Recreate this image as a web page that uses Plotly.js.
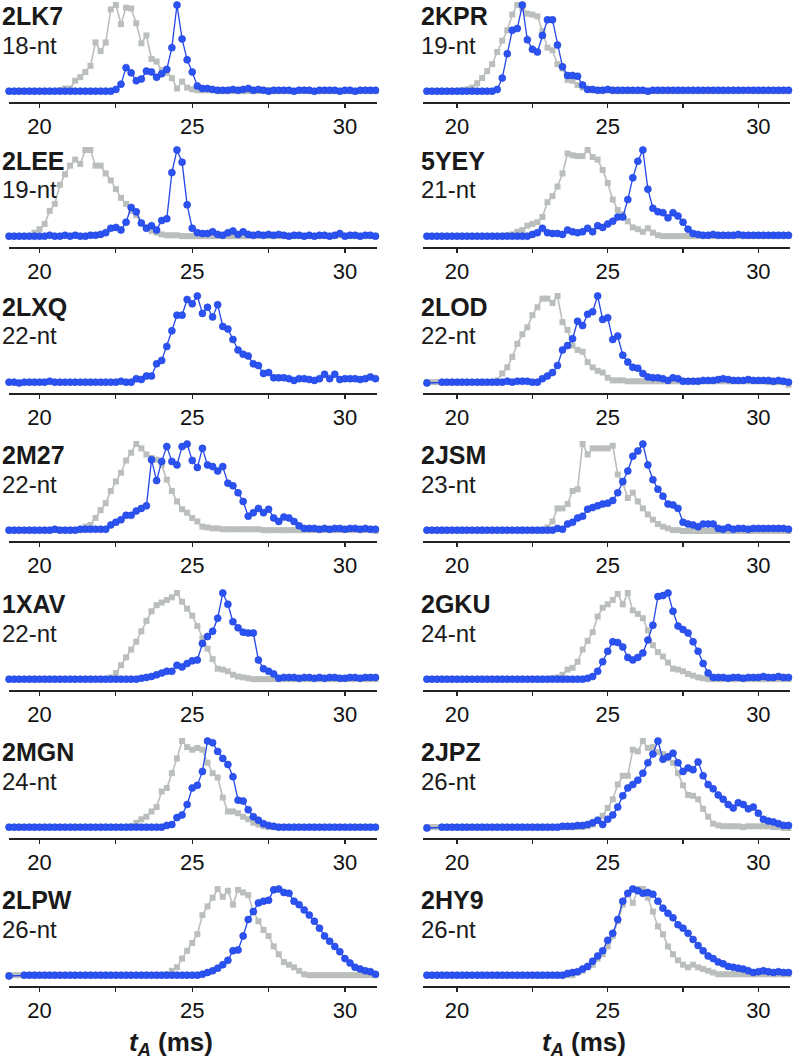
<!DOCTYPE html>
<html>
<head>
<meta charset="utf-8">
<script src="https://cdn.plot.ly/plotly-3.0.1.min.js"></script>
<style>html,body{margin:0;padding:0;background:#fff;}#chart{width:796px;height:1062px;}</style>
</head>
<body>
<div id="chart"></div>
<script>
// time axis t_A (ms)
const tA = [19.000,19.167,19.333,19.500,19.667,19.833,
20.000,20.167,20.333,20.500,20.667,20.833,
21.000,21.167,21.333,21.500,21.667,21.833,
22.000,22.167,22.333,22.500,22.667,22.833,
23.000,23.167,23.333,23.500,23.667,23.833,
24.000,24.167,24.333,24.500,24.667,24.833,
25.000,25.167,25.333,25.500,25.667,25.833,
26.000,26.167,26.333,26.500,26.667,26.833,
27.000,27.167,27.333,27.500,27.667,27.833,
28.000,28.167,28.333,28.500,28.667,28.833,
29.000,29.167,29.333,29.500,29.667,29.833,
30.000,30.167,30.333,30.500,30.667,30.833,
31.000];

const names = ["2LK7","2KPR","2LEE","5YEY","2LXQ","2LOD","2M27","2JSM","1XAV","2GKU","2MGN","2JPZ","2LPW","2HY9"];
const lengths = ["18-nt","19-nt","19-nt","21-nt","22-nt","22-nt","22-nt","23-nt","22-nt","24-nt","24-nt","26-nt","26-nt","26-nt"];
const xTickVals = [20,25,30];
const xTickText = ["20","25","30"];
const xMinorTicks = [22.5,27.5];

// ---- 2LK7 ----
const blue_2LK7 = [0.01,0.01,0.01,0.01,0.01,0.01, 0.01,0.01,0.01,0.01,0.01,0.01, 0.01,0.01,0.01,0.01,0.01,0.01,
0.01,0.01,0.01,0.03,0.09,0.28, 0.22,0.13,0.15,0.24,0.23,0.17, 0.21,0.26,0.51,1.0,0.61,0.37,
0.23,0.07,0.04,0.04,0.03,0.02, 0.02,0.02,0.03,0.02,0.03,0.04, 0.02,0.03,0.02,0.01,0.02,0.02,
0.02,0.02,0.01,0.02,0.02,0.02, 0.01,0.02,0.02,0.02,0.02,0.01, 0.02,0.02,0.01,0.02,0.02,0.02, 0.02];
const gray_2LK7 = [0.01,0.01,0.01,0.01,0.01,0.01, 0.01,0.01,0.01,0.01,0.02,0.04, 0.04,0.13,0.17,0.23,0.30,0.57,
0.47,0.57,0.95,1.0,0.78,0.97, 0.96,0.79,0.56,0.65,0.38,0.35, 0.25,0.22,0.16,0.04,0.12,0.05,
0.03,0.02,0.02,0.02,0.02,0.01, 0.01,0.01,0.01,0.01,0.01,0.01, 0.01,0.01,0.02,0.02,0.01,0.01,
0.01,0.01,0.01,0.02,0.02,0.01, 0.01,0.01,0.01,0.01,0.01,0.01, 0.01,0.01,0.01,0.01,0.01,0.01, 0.01];
// ---- 2KPR ----
const blue_2KPR = [0.01,0.01,0.01,0.01,0.01,0.01, 0.01,0.01,0.01,0.01,0.01,0.01, 0.01,0.01,0.03,0.16,0.44,0.71,
0.73,1.0,0.60,0.49,0.46,0.65, 0.83,0.83,0.54,0.29,0.19,0.19, 0.18,0.08,0.03,0.03,0.02,0.02,
0.03,0.02,0.02,0.02,0.02,0.02, 0.02,0.02,0.01,0.02,0.02,0.02, 0.02,0.02,0.02,0.02,0.02,0.02,
0.02,0.02,0.02,0.02,0.02,0.02, 0.02,0.02,0.02,0.02,0.02,0.02, 0.02,0.02,0.02,0.02,0.02,0.02, 0.02];
const gray_2KPR = [0.01,0.01,0.01,0.01,0.01,0.01, 0.01,0.02,0.03,0.05,0.10,0.16, 0.24,0.32,0.46,0.59,0.71,0.89,
1.0,0.96,0.90,0.89,0.87,0.70, 0.51,0.48,0.32,0.27,0.14,0.13, 0.08,0.05,0.03,0.02,0.02,0.02,
0.02,0.01,0.01,0.01,0.01,0.01, 0.01,0.01,0.01,0.01,0.01,0.01, 0.01,0.01,0.01,0.01,0.01,0.01,
0.01,0.01,0.01,0.01,0.01,0.01, 0.01,0.01,0.01,0.02,0.02,0.01, 0.01,0.01,0.01,0.01,0.01,0.01, 0.01];
// ---- 2LEE ----
const blue_2LEE = [0.01,0.01,0.01,0.01,0.01,0.01, 0.01,0.01,0.02,0.01,0.01,0.02, 0.01,0.02,0.01,0.01,0.02,0.02,
0.03,0.05,0.10,0.11,0.08,0.17, 0.34,0.29,0.16,0.10,0.13,0.08, 0.19,0.21,0.74,1.0,0.86,0.37,
0.10,0.05,0.04,0.04,0.06,0.03, 0.02,0.05,0.07,0.03,0.06,0.03, 0.02,0.03,0.02,0.03,0.02,0.03,
0.02,0.01,0.02,0.02,0.01,0.02, 0.01,0.02,0.02,0.01,0.02,0.04, 0.01,0.02,0.02,0.01,0.02,0.02, 0.01];
const gray_2LEE = [0.01,0.01,0.01,0.01,0.01,0.05, 0.09,0.15,0.30,0.38,0.60,0.72, 0.82,0.89,0.84,1.0,1.0,0.82,
0.82,0.73,0.65,0.55,0.45,0.38, 0.30,0.25,0.16,0.11,0.07,0.05, 0.03,0.02,0.02,0.02,0.01,0.01,
0.01,0.01,0.01,0.01,0.01,0.01, 0.01,0.01,0.01,0.01,0.01,0.01, 0.01,0.01,0.01,0.01,0.01,0.01,
0.01,0.01,0.01,0.01,0.01,0.01, 0.01,0.01,0.01,0.01,0.01,0.02, 0.01,0.01,0.01,0.01,0.01,0.01, 0.01];
// ---- 5YEY ----
const blue_5YEY = [0.01,0.01,0.01,0.01,0.01,0.01, 0.01,0.01,0.01,0.01,0.01,0.01, 0.01,0.01,0.01,0.01,0.01,0.01,
0.01,0.01,0.01,0.03,0.05,0.10, 0.05,0.04,0.04,0.03,0.08,0.06, 0.05,0.06,0.10,0.06,0.13,0.11,
0.15,0.18,0.23,0.23,0.43,0.68, 0.87,1.0,0.55,0.33,0.29,0.28, 0.22,0.28,0.24,0.17,0.09,0.04,
0.03,0.02,0.02,0.03,0.02,0.02, 0.02,0.02,0.03,0.02,0.02,0.02, 0.02,0.02,0.02,0.02,0.02,0.02, 0.02];
const gray_5YEY = [0.01,0.01,0.01,0.01,0.01,0.01, 0.01,0.01,0.01,0.01,0.01,0.01, 0.01,0.01,0.01,0.01,0.02,0.03,
0.06,0.08,0.13,0.15,0.17,0.23, 0.40,0.47,0.58,0.73,0.96,0.94, 0.93,0.93,1.0,0.92,0.89,0.77,
0.62,0.43,0.31,0.26,0.18,0.11, 0.09,0.06,0.10,0.05,0.02,0.01, 0.01,0.01,0.01,0.01,0.01,0.01,
0.01,0.01,0.01,0.01,0.01,0.01, 0.01,0.01,0.01,0.01,0.01,0.01, 0.01,0.01,0.01,0.01,0.01,0.01, 0.01];
// ---- 2LXQ ----
const blue_2LXQ = [0.01,0.01,0.0,0.01,0.01,0.01, 0.01,0.01,0.02,0.01,0.01,0.01, 0.01,0.01,0.01,0.01,0.01,0.01,
0.01,0.01,0.01,0.01,0.02,0.01, 0.01,0.05,0.04,0.08,0.08,0.22, 0.26,0.42,0.60,0.78,0.78,0.96,
0.91,1.0,0.80,0.87,0.76,0.90, 0.65,0.62,0.50,0.38,0.33,0.31, 0.22,0.20,0.11,0.12,0.06,0.06,
0.06,0.05,0.03,0.05,0.05,0.04, 0.03,0.05,0.10,0.05,0.10,0.04, 0.05,0.05,0.05,0.04,0.05,0.07, 0.05];
const gray_2LXQ = null;
// ---- 2LOD ----
const blue_2LOD = [0.0,null,null,0.01,0.01,0.01, 0.01,0.01,0.01,0.01,0.01,0.01, 0.01,0.01,0.01,0.01,0.02,0.01,
0.02,0.02,0.02,0.01,0.01,0.05, 0.08,0.12,0.20,0.38,0.43,0.51, 0.71,0.66,0.79,0.82,1.0,0.73,
0.75,0.50,0.54,0.32,0.24,0.18, 0.17,0.11,0.07,0.06,0.06,0.05, 0.03,0.06,0.05,0.02,0.02,0.02,
0.02,0.03,0.03,0.03,0.04,0.05, 0.04,0.03,0.03,0.03,0.04,0.03, 0.03,0.03,0.03,0.02,0.03,0.02, 0.01];
const gray_2LOD = [0.01,0.01,0.01,0.01,0.01,0.01, 0.01,0.01,0.01,0.01,0.01,0.01, 0.01,0.01,0.03,0.11,0.18,0.30,
0.45,0.56,0.64,0.78,0.87,0.97, 0.97,0.92,1.0,0.70,0.61,0.43, 0.38,0.36,0.24,0.18,0.14,0.12,
0.06,0.03,0.03,0.03,0.02,0.02, 0.02,0.02,0.02,0.02,0.02,0.02, 0.02,0.02,0.02,0.02,0.02,0.02,
0.02,0.02,0.02,0.02,0.02,0.02, 0.02,0.02,0.02,0.02,0.02,0.02, 0.02,0.02,0.01,0.01,0.01,0.01, -0.02];
// ---- 2M27 ----
const blue_2M27 = [0.01,0.01,0.01,0.01,0.01,0.01, 0.01,0.01,0.01,0.02,0.01,0.01, 0.01,0.01,0.02,0.02,0.02,0.02,
0.02,0.02,0.07,0.10,0.13,0.18, 0.18,0.23,0.26,0.29,0.82,0.58, 0.80,0.97,0.80,0.76,0.97,1.0,
0.81,0.73,0.95,0.76,0.74,0.69, 0.74,0.55,0.52,0.44,0.34,0.17, 0.21,0.26,0.21,0.25,0.15,0.11,
0.16,0.15,0.11,0.06,0.03,0.03, 0.03,0.02,0.03,0.02,0.03,0.03, 0.02,0.03,0.03,0.02,0.03,0.02, 0.02];
const gray_2M27 = [0.01,0.01,0.01,0.01,0.01,0.01, 0.01,0.01,0.01,0.01,0.01,0.01, 0.01,0.01,0.01,0.05,0.07,0.15,
0.24,0.32,0.46,0.57,0.67,0.81, 0.90,1.0,0.95,0.88,0.84,0.82, 0.76,0.59,0.46,0.34,0.25,0.21,
0.15,0.11,0.05,0.04,0.03,0.03, 0.02,0.02,0.02,0.02,0.02,0.02, 0.02,0.02,0.01,0.01,0.01,0.01,
0.01,0.01,0.01,0.01,0.01,0.01, 0.01,0.01,0.01,0.01,0.01,0.01, 0.01,0.01,0.01,0.01,0.01,0.01, 0.0];
// ---- 2JSM ----
const blue_2JSM = [0.01,0.01,0.01,0.01,0.01,0.01, 0.01,0.01,0.01,0.01,0.01,0.01, 0.01,0.01,0.01,0.01,0.01,0.01,
0.01,0.01,0.01,0.01,0.01,0.01, 0.01,0.01,0.03,0.02,0.08,0.10, 0.15,0.17,0.25,0.27,0.29,0.31,
0.32,0.35,0.44,0.57,0.69,0.86, 0.92,1.0,0.76,0.59,0.48,0.40, 0.31,0.30,0.26,0.10,0.08,0.07,
0.05,0.08,0.08,0.08,0.03,0.02, 0.04,0.02,0.03,0.03,0.02,0.03, 0.03,0.03,0.03,0.03,0.03,0.03, 0.02];
const gray_2JSM = [0.01,0.01,0.01,0.01,0.01,0.01, 0.01,0.01,0.01,0.01,0.01,0.01, 0.01,0.01,0.01,0.01,0.01,0.01,
0.01,0.01,0.01,0.01,0.01,0.01, 0.04,0.11,0.26,0.26,0.31,0.46, 0.48,1.0,0.88,0.95,0.95,0.95,
0.95,0.98,0.65,0.55,0.38,0.44, 0.34,0.26,0.19,0.13,0.08,0.05, 0.03,0.01,0.01,0.0,0.0,0.0,
0.0,0.0,0.0,0.0,0.0,0.0, 0.0,0.0,0.0,0.0,0.0,0.0, 0.0,0.0,0.0,0.0,0.0,0.0, 0.0];
// ---- 1XAV ----
const blue_1XAV = [0.01,0.01,0.01,0.01,0.01,0.01, 0.01,0.01,0.01,0.01,0.01,0.01, 0.01,0.01,0.01,0.01,0.01,0.01,
0.01,0.01,0.01,0.01,0.01,0.01, 0.01,0.01,0.02,0.03,0.04,0.06, 0.08,0.10,0.10,0.17,0.15,0.19,
0.22,0.23,0.42,0.50,0.56,0.71, 1.0,0.87,0.67,0.60,0.55,0.54, 0.54,0.23,0.13,0.10,0.07,0.02,
0.03,0.03,0.03,0.02,0.03,0.03, 0.02,0.03,0.02,0.03,0.03,0.02, 0.02,0.03,0.03,0.02,0.03,0.03, 0.03];
const gray_1XAV = [0.01,0.01,0.01,0.01,0.01,0.01, 0.01,0.01,0.01,0.01,0.01,0.01, 0.01,0.01,0.01,0.01,0.01,0.01,
0.01,0.01,0.03,0.08,0.17,0.26, 0.35,0.44,0.56,0.68,0.79,0.86, 0.89,0.92,0.95,1.0,0.90,0.82,
0.74,0.62,0.48,0.36,0.24,0.13, 0.12,0.10,0.06,0.04,0.03,0.02, 0.01,0.01,0.01,0.01,0.01,0.01,
0.01,0.01,0.01,0.01,0.01,0.01, 0.01,0.01,0.01,0.01,0.01,0.01, 0.01,0.01,0.01,0.01,0.01,0.01, 0.01];
// ---- 2GKU ----
const blue_2GKU = [0.01,0.01,0.01,0.01,0.01,0.01, 0.01,0.01,0.01,0.01,0.01,0.01, 0.01,0.01,0.01,0.01,0.01,0.01,
0.01,0.01,0.01,0.01,0.01,0.01, 0.01,0.01,0.01,0.01,0.01,0.01, 0.01,0.01,0.02,0.04,0.10,0.21,
0.33,0.44,0.43,0.38,0.26,0.23, 0.26,0.31,0.46,0.63,0.96,0.97, 1.0,0.79,0.62,0.58,0.54,0.44,
0.33,0.19,0.08,0.03,0.03,0.03, 0.02,0.03,0.03,0.02,0.03,0.03, 0.03,0.04,0.03,0.03,0.04,0.03, 0.03];
const gray_2GKU = [0.01,0.01,0.01,0.01,0.01,0.01, 0.01,0.01,0.01,0.01,0.01,0.01, 0.01,0.01,0.01,0.01,0.01,0.01,
0.01,0.01,0.01,0.01,0.01,0.01, 0.01,0.02,0.03,0.06,0.12,0.14, 0.21,0.35,0.45,0.55,0.73,0.83,
0.87,0.92,0.99,0.87,1.0,0.80, 0.76,0.71,0.57,0.40,0.32,0.27, 0.20,0.13,0.12,0.10,0.07,0.05,
0.03,0.02,0.01,0.01,0.01,0.01, 0.01,0.01,0.01,0.01,0.01,0.01, 0.01,0.01,0.01,0.01,0.01,0.01, 0.01];
// ---- 2MGN ----
const blue_2MGN = [0.01,0.01,0.01,0.01,0.01,0.01, 0.01,0.01,0.01,0.01,0.01,0.01, 0.01,0.01,0.01,0.01,0.01,0.01,
0.01,0.01,0.01,0.01,0.01,0.01, 0.01,0.01,0.01,0.01,0.01,0.01, 0.01,0.03,0.04,0.12,0.15,0.27,
0.46,0.49,0.65,1.0,0.98,0.88, 0.80,0.73,0.59,0.32,0.31,0.21, 0.13,0.09,0.05,0.03,0.02,0.01,
0.01,0.01,0.01,0.01,0.01,0.01, 0.01,0.01,0.01,0.01,0.01,0.01, 0.01,0.01,0.01,0.01,0.01,0.01, 0.01];
const gray_2MGN = [0.01,0.01,0.01,0.01,0.01,0.01, 0.01,0.01,0.01,0.01,0.01,0.01, 0.01,0.01,0.01,0.01,0.01,0.01,
0.01,0.01,0.01,0.01,0.01,0.01, 0.02,0.06,0.10,0.13,0.19,0.24, 0.42,0.46,0.63,0.80,1.0,0.93,
0.90,0.92,0.90,0.75,0.63,0.58, 0.35,0.19,0.19,0.17,0.13,0.10, 0.06,0.04,0.02,0.01,0.01,0.01,
0.01,0.01,0.01,0.01,0.01,0.01, 0.01,0.01,0.01,0.01,0.01,0.01, 0.01,0.01,0.01,0.01,0.01,0.01, 0.01];
// ---- 2JPZ ----
const blue_2JPZ = [0.0,null,null,0.01,0.01,0.01, 0.01,0.01,0.01,0.01,0.01,0.01, 0.01,0.01,0.01,0.01,0.01,0.01,
0.01,0.01,0.01,0.01,0.01,0.01, 0.01,0.01,0.01,0.02,0.02,0.02, 0.03,0.03,0.04,0.06,0.09,0.04,
0.10,0.15,0.24,0.37,0.46,0.50, 0.55,0.63,0.75,0.85,1.0,0.79, 0.82,0.86,0.75,0.65,0.69,0.67,
0.76,0.60,0.50,0.45,0.38,0.33, 0.27,0.23,0.29,0.27,0.22,0.24, 0.17,0.10,0.08,0.07,0.05,0.03, 0.03];
const gray_2JPZ = [0.01,0.01,0.01,0.01,0.01,0.01, 0.01,0.01,0.01,0.01,0.01,0.01, 0.01,0.01,0.01,0.01,0.01,0.01,
0.01,0.01,0.01,0.01,0.01,0.01, 0.01,0.01,0.01,0.01,0.01,0.01, 0.01,0.01,0.02,0.04,0.08,0.14,
0.23,0.33,0.50,0.60,0.60,0.90, 0.88,1.0,0.92,0.93,0.87,0.85, 0.80,0.75,0.63,0.49,0.38,0.37,
0.33,0.22,0.13,0.05,0.03,0.02, 0.02,0.02,0.02,0.01,0.02,0.02, 0.02,0.02,0.02,0.01,0.01,0.0, 0.0];
// ---- 2LPW ----
const blue_2LPW = [0.0,null,null,0.01,0.01,0.01, 0.01,0.01,0.01,0.01,0.01,0.01, 0.01,0.01,0.01,0.01,0.01,0.01,
0.01,0.01,0.01,0.01,0.01,0.01, 0.01,0.01,0.01,0.01,0.01,0.01, 0.01,0.01,0.01,0.01,0.01,0.01,
0.01,0.01,0.02,0.04,0.06,0.09, 0.13,0.18,0.29,0.30,0.46,0.65, 0.74,0.84,0.86,0.87,0.99,1.0,
0.96,0.95,0.86,0.82,0.76,0.70, 0.63,0.55,0.46,0.40,0.34,0.28, 0.20,0.15,0.10,0.08,0.06,0.05, 0.02];
const gray_2LPW = [0.01,0.01,0.01,0.01,0.01,0.01, 0.01,0.01,0.01,0.01,0.01,0.01, 0.01,0.01,0.01,0.01,0.01,0.01,
0.01,0.01,0.01,0.01,0.01,0.01, 0.01,0.01,0.01,0.01,0.01,0.01, 0.01,0.02,0.06,0.10,0.20,0.29,
0.38,0.48,0.70,0.80,0.90,1.0, 0.91,0.98,0.82,0.99,0.96,0.93, 0.74,0.63,0.53,0.46,0.34,0.25,
0.16,0.13,0.10,0.06,0.02,0.01, 0.01,0.01,0.01,0.01,0.01,0.01, 0.01,0.01,0.01,0.01,0.01,0.01, 0.01];
// ---- 2HY9 ----
const blue_2HY9 = [0.01,0.01,0.01,0.01,0.01,0.01, 0.01,0.01,0.01,0.01,0.01,0.01, 0.01,0.01,0.01,0.01,0.01,0.01,
0.01,0.01,0.01,0.01,0.01,0.01, 0.01,0.01,0.01,0.01,0.03,0.04, 0.05,0.08,0.11,0.17,0.23,0.29,
0.41,0.49,0.65,0.86,0.95,1.0, 0.98,0.95,0.96,0.94,0.86,0.78, 0.72,0.67,0.59,0.55,0.49,0.42,
0.35,0.29,0.23,0.20,0.16,0.14, 0.11,0.10,0.09,0.08,0.06,0.04, 0.05,0.06,0.05,0.04,0.05,0.04, 0.04];
const gray_2HY9 = [0.01,0.01,0.01,0.01,0.01,0.01, 0.01,0.01,0.01,0.01,0.01,0.01, 0.01,0.01,0.01,0.01,0.01,0.01,
0.01,0.01,0.01,0.01,0.01,0.01, 0.01,0.01,0.01,0.01,0.01,0.01, 0.04,0.06,0.10,0.13,0.20,0.25,
0.34,0.46,0.63,0.82,0.94,0.84, 1.0,1.0,0.90,0.74,0.57,0.48, 0.34,0.25,0.18,0.13,0.10,0.13,
0.10,0.08,0.06,0.04,0.02,0.02, 0.02,0.02,0.02,0.02,0.02,0.02, 0.02,0.02,0.02,0.02,0.02,0.02, 0.02];

const blueSeries = [blue_2LK7,blue_2KPR,blue_2LEE,blue_5YEY,blue_2LXQ,blue_2LOD,blue_2M27,blue_2JSM,blue_1XAV,blue_2GKU,blue_2MGN,blue_2JPZ,blue_2LPW,blue_2HY9];
const graySeries = [gray_2LK7,gray_2KPR,gray_2LEE,gray_5YEY,gray_2LXQ,gray_2LOD,gray_2M27,gray_2JSM,gray_1XAV,gray_2GKU,gray_2MGN,gray_2JPZ,gray_2LPW,gray_2HY9];

// ---- layout geometry (pixels) ----
const W = 796, H = 1062;
const rowAxisY = [102, 247, 393, 541, 690, 838, 986];
const panelH = 97;
const colPix = [[9, 377], [423, 790]];
const colRange = [[19.0, 31.05], [18.87, 31.05]];
const labelX = [0, 419];
const FONT = "Liberation Sans, Arial, Helvetica, sans-serif";
const BLUE = "#2b52f2";
const BLUE_LINE = "#2446ea";
const GRAY = "#bbbfbc";

const data = [];
const layout = {
  width: W, height: H,
  margin: {l: 0, r: 0, t: 0, b: 0},
  paper_bgcolor: "#fff", plot_bgcolor: "rgba(0,0,0,0)",
  showlegend: false,
  annotations: []
};
for (let p = 0; p < names.length; p++) {
  const row = Math.floor(p / 2), col = p % 2;
  const ax = p === 0 ? "" : String(p + 1);
  const axY = rowAxisY[row];
  layout["xaxis" + ax] = {
    domain: [colPix[col][0] / W, colPix[col][1] / W],
    anchor: "y" + ax,
    range: colRange[col],
    showgrid: false, zeroline: false,
    showline: true, linecolor: "#222", linewidth: 1.5,
    ticks: "outside", ticklen: 4, tickwidth: 1.2, tickcolor: "#222",
    tickmode: "array", tickvals: xTickVals, ticktext: xTickText,
    minor: {tickmode: "array", tickvals: xMinorTicks, ticks: "outside", ticklen: 4, tickwidth: 1.2, tickcolor: "#222", showgrid: false},
    tickfont: {family: FONT, size: 22, color: "#111"},
    fixedrange: true
  };
  layout["yaxis" + ax] = {
    domain: [1 - axY / H, 1 - (axY - panelH) / H],
    anchor: "x" + ax,
    range: [-0.115, 1.0],
    visible: false, fixedrange: true
  };
  if (graySeries[p]) {
    data.push({
      x: tA, y: graySeries[p], xaxis: "x" + ax, yaxis: "y" + ax,
      type: "scatter", mode: "lines+markers", cliponaxis: false, connectgaps: true,
      line: {color: GRAY, width: 1.6},
      marker: {symbol: "square", size: 6, color: GRAY},
      hoverinfo: "skip"
    });
  }
  data.push({
    x: tA, y: blueSeries[p], xaxis: "x" + ax, yaxis: "y" + ax,
    type: "scatter", mode: "lines+markers", cliponaxis: false, connectgaps: true,
    line: {color: BLUE_LINE, width: 1.3},
    marker: {symbol: "circle", size: 7, color: BLUE, line: {color: "#1f42d8", width: 0.6}},
    hoverinfo: "skip"
  });
  layout.annotations.push({
    text: "<b>" + names[p] + "</b>", xref: "paper", yref: "paper",
    x: labelX[col] / W, y: 1 - (axY - 86) / H, xanchor: "left", yanchor: "middle",
    showarrow: false, font: {family: FONT, size: 25, color: "#1a1a1a"}
  });
  layout.annotations.push({
    text: lengths[p], xref: "paper", yref: "paper",
    x: labelX[col] / W, y: 1 - (axY - 57) / H, xanchor: "left", yanchor: "middle",
    showarrow: false, font: {family: FONT, size: 24, color: "#1a1a1a"}
  });
}
const titleX = [171, 584];
for (let c = 0; c < 2; c++) {
  layout.annotations.push({
    text: "<b><i>t</i><sub><i>A</i></sub> (ms)</b>", xref: "paper", yref: "paper",
    x: titleX[c] / W, y: 1 - 1043 / H, xanchor: "center", yanchor: "middle",
    showarrow: false, font: {family: FONT, size: 26, color: "#1a1a1a"}
  });
}
Plotly.newPlot("chart", data, layout, {staticPlot: true, displayModeBar: false});
</script>
</body>
</html>
